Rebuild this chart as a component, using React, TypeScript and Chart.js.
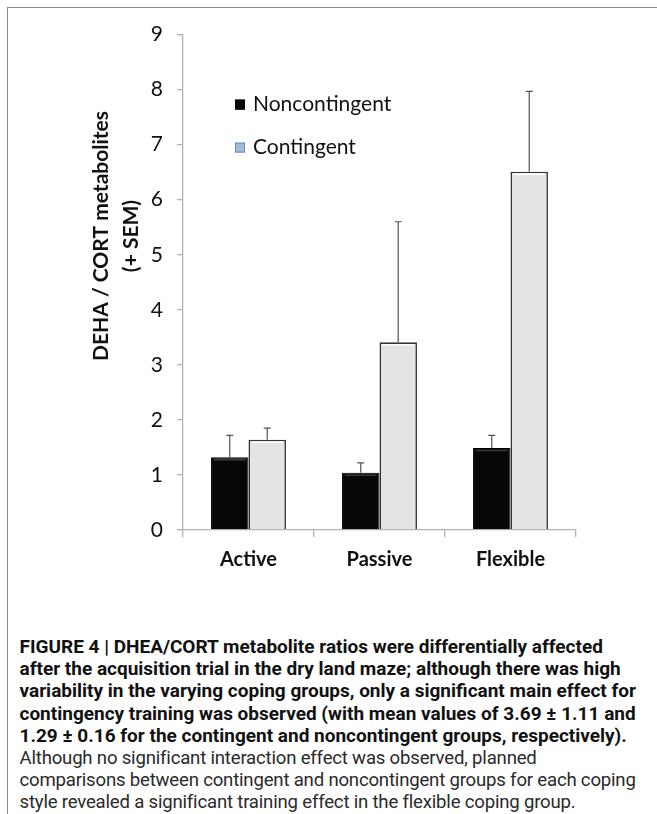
import React, { useEffect, useRef } from 'react';
import { Chart, registerables } from 'chart.js';

Chart.register(...registerables);

// ---- Data ----
const categories = ['Active', 'Passive', 'Flexible'];
const seriesLabels = ['Noncontingent', 'Contingent'];
const noncontingentMeans = [1.32, 1.04, 1.49];
const noncontingentSem = [0.4, 0.18, 0.23];
const contingentMeans = [1.64, 3.41, 6.51];
const contingentSem = [0.21, 2.19, 1.46];
const yMin = 0;
const yMax = 9;
const yStep = 1;
const yTitleLines = ['DEHA / CORT metabolites', '(+ SEM)'];

const captionBold = [
  'FIGURE 4 | DHEA/CORT metabolite ratios were differentially affected',
  'after the acquisition trial in the dry land maze; although there was high',
  'variability in the varying coping groups, only a significant main effect for',
  'contingency training was observed (with mean values of 3.69 \u00b1 1.11 and',
  '1.29 \u00b1 0.16 for the contingent and noncontingent groups, respectively).',
];
const captionNormal = [
  'Although no significant interaction effect was observed, planned',
  'comparisons between contingent and noncontingent groups for each coping',
  'style revealed a significant training effect in the flexible coping group.',
];

const CHART_FONT = 'Lato, "Open Sans", sans-serif';

const bevelPlugin = {
  id: 'bevel',
  afterDatasetsDraw(chart: any) {
    const ctx = chart.ctx;
    const highlights = ['#3a3a3a', '#ffffff'];
    chart.data.datasets.forEach((ds: any, i: number) => {
      const meta = chart.getDatasetMeta(i);
      meta.data.forEach((bar: any) => {
        const half = bar.width / 2;
        ctx.save();
        ctx.strokeStyle = highlights[i];
        ctx.lineWidth = 1.5;
        ctx.beginPath();
        ctx.moveTo(bar.x - half + 3, bar.y + 2.5);
        ctx.lineTo(bar.x + half - 3, bar.y + 2.5);
        ctx.stroke();
        ctx.restore();
      });
    });
  },
};

const errorBarPlugin = {
  id: 'errorBars',
  afterDatasetsDraw(chart: any) {
    const ctx = chart.ctx;
    const yScale = chart.scales.y;
    chart.data.datasets.forEach((ds: any, i: number) => {
      const meta = chart.getDatasetMeta(i);
      meta.data.forEach((bar: any, j: number) => {
        const top = yScale.getPixelForValue(ds.data[j] + ds.sem[j]);
        ctx.save();
        ctx.strokeStyle = '#555555';
        ctx.lineWidth = 1.2;
        ctx.beginPath();
        ctx.moveTo(bar.x, bar.y);
        ctx.lineTo(bar.x, top);
        ctx.moveTo(bar.x - 3.5, top);
        ctx.lineTo(bar.x + 3.5, top);
        ctx.stroke();
        ctx.restore();
      });
    });
  },
};

const legendPlugin = {
  id: 'innerLegend',
  afterDraw(chart: any) {
    const ctx = chart.ctx;
    const area = chart.chartArea;
    const x = area.left + 52;
    const ys = [area.top + 70, area.top + 113];
    const fills = ['#0a0a0a', '#a3badd'];
    const strokes = ['#000000', '#6f8dbf'];
    chart.data.datasets.forEach((ds: any, i: number) => {
      const y = ys[i];
      ctx.save();
      ctx.fillStyle = fills[i];
      ctx.fillRect(x, y - 5, 10, 10);
      ctx.strokeStyle = strokes[i];
      ctx.lineWidth = 1;
      ctx.strokeRect(x + 0.5, y - 4.5, 9, 9);
      ctx.fillStyle = '#111111';
      ctx.font = `21px ${CHART_FONT}`;
      ctx.textBaseline = 'middle';
      ctx.textAlign = 'left';
      ctx.fillText(ds.label, x + 18, y);
      ctx.restore();
    });
  },
};

const yTitlePlugin = {
  id: 'yTitle',
  afterDraw(chart: any) {
    const ctx = chart.ctx;
    const cy = 228;
    const xs = [93, 123];
    ctx.save();
    ctx.fillStyle = '#111111';
    ctx.font = `bold 21px ${CHART_FONT}`;
    ctx.textAlign = 'center';
    ctx.textBaseline = 'middle';
    yTitleLines.forEach((line, i) => {
      ctx.save();
      ctx.translate(xs[i], cy);
      ctx.rotate(-Math.PI / 2);
      ctx.fillText(line, 0, 0);
      ctx.restore();
    });
    ctx.restore();
  },
};

export default function App() {
  const canvasRef = useRef<HTMLCanvasElement | null>(null);

  useEffect(() => {
    if (!canvasRef.current) return;
    const axisColor = '#b3b3b3';
    const chart = new Chart(canvasRef.current, {
      type: 'bar',
      data: {
        labels: categories,
        datasets: [
          {
            label: seriesLabels[0],
            data: noncontingentMeans,
            sem: noncontingentSem,
            backgroundColor: '#070707',
            borderColor: '#000000',
            borderWidth: 1,
            categoryPercentage: 0.572,
            barPercentage: 1.0,
          } as any,
          {
            label: seriesLabels[1],
            data: contingentMeans,
            sem: contingentSem,
            backgroundColor: '#e4e4e4',
            borderColor: '#333333',
            borderWidth: 1.6,
            categoryPercentage: 0.572,
            barPercentage: 1.0,
          } as any,
        ],
      },
      options: {
        animation: false,
        responsive: true,
        maintainAspectRatio: false,
        layout: { padding: { left: 0, right: 80, top: 24, bottom: 0 } },
        plugins: {
          legend: { display: false },
          tooltip: { enabled: false },
          title: { display: false },
        },
        scales: {
          x: {
            grid: {
              display: true,
              drawOnChartArea: false,
              offset: true,
              color: axisColor,
              tickLength: 7,
              lineWidth: 1.3,
            },
            border: { color: axisColor, width: 1.3 },
            ticks: {
              font: { family: CHART_FONT, size: 20, weight: 'bold' },
              color: '#111111',
              padding: 11,
            },
            afterFit: (s: any) => {
              s.height = 78;
            },
          },
          y: {
            min: yMin,
            max: yMax,
            ticks: {
              stepSize: yStep,
              font: { family: CHART_FONT, size: 21 },
              color: '#111111',
              padding: 14,
            },
            grid: {
              display: true,
              drawOnChartArea: false,
              color: axisColor,
              tickLength: 6,
              lineWidth: 1.3,
            },
            border: { color: axisColor, width: 1.3 },
            afterFit: (s: any) => {
              s.width = 175;
            },
          },
        },
      } as any,
      plugins: [bevelPlugin, errorBarPlugin, legendPlugin, yTitlePlugin],
    });
    return () => chart.destroy();
  }, []);

  const captionFont = 'Roboto, "Liberation Sans", sans-serif';

  return (
    <div
      style={{
        position: 'fixed',
        left: 7,
        top: 7,
        width: 650,
        height: 807,
        boxSizing: 'border-box',
        borderTop: '1.5px solid #8c8c8c',
        borderLeft: '1.5px solid #8c8c8c',
        background: '#ffffff',
      }}
    >
      <div style={{ position: 'absolute', left: 0, top: 0, width: 648, height: 600 }}>
        <canvas ref={canvasRef} />
      </div>
      <div
        style={{
          position: 'absolute',
          left: 11.5,
          top: 628,
          fontFamily: captionFont,
          lineHeight: '22.2px',
          whiteSpace: 'nowrap',
          color: '#111111',
        }}
      >
        {captionBold.map((l, i) => (
          <div key={'b' + i} style={{ fontWeight: 700, fontSize: 19, letterSpacing: '0px' }}>
            {l}
          </div>
        ))}
        {captionNormal.map((l, i) => (
          <div
            key={'n' + i}
            style={{ fontWeight: 400, fontSize: 18.6, color: '#2a2a2a', letterSpacing: '-0.2px' }}
          >
            {l}
          </div>
        ))}
      </div>
    </div>
  );
}
